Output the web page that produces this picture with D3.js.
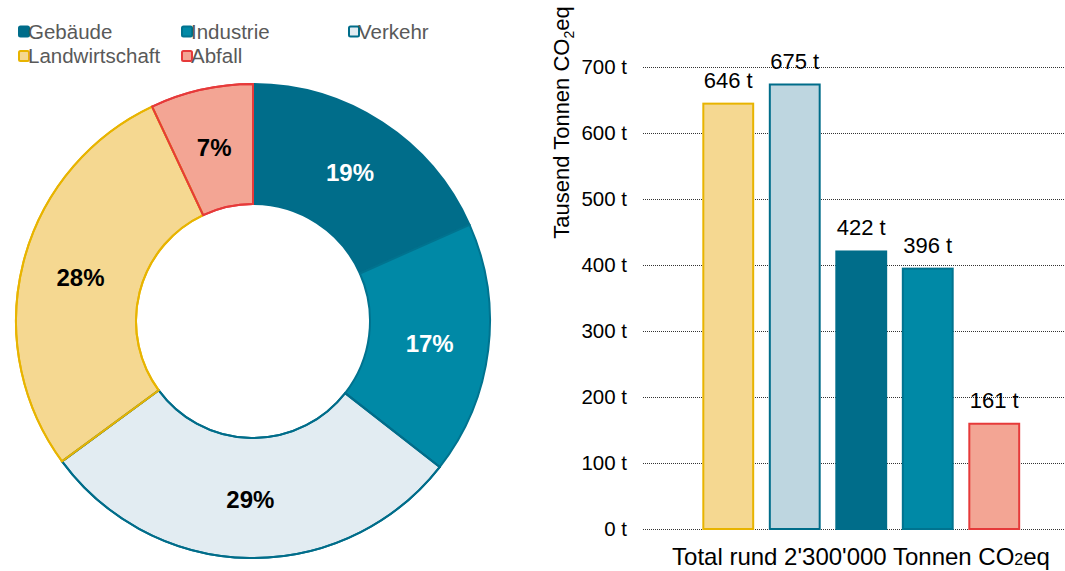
<!DOCTYPE html>
<html>
<head>
<meta charset="utf-8">
<script src="https://cdn.jsdelivr.net/npm/d3@7"></script>
<style>
  html, body { margin: 0; padding: 0; background: #fff; }
  svg { display: block; font-family: "Liberation Sans", Arial, sans-serif; }
</style>
</head>
<body>
<svg id="chart" width="1065" height="571"></svg>
<script>
// Emission sectors (thousand tonnes CO2eq)
const categories = ["Gebäude", "Industrie", "Verkehr", "Landwirtschaft", "Abfall"];
const values = [422, 396, 675, 646, 161];
const pctLabels = ["19%", "17%", "29%", "28%", "7%"];
const fills = ["#006d8a", "#0089a6", "#e2ecf2", "#f5d891", "#f3a594"];
const strokes = ["#006d8a", "#00738f", "#006d8a", "#e8b400", "#e63a3a"];
const pctColors = ["#fff", "#fff", "#000", "#000", "#000"];

// Bar chart order and colours
const barCats = ["Landwirtschaft", "Verkehr", "Gebäude", "Industrie", "Abfall"];
const barValues = [646, 675, 422, 396, 161];
const barFills = ["#f5d891", "#bed6e0", "#006d8a", "#0089a6", "#f3a594"];
const barStrokes = ["#e8b400", "#006d8a", "#006d8a", "#00738f", "#e63a3a"];
const yTicks = [0, 100, 200, 300, 400, 500, 600, 700];

const svg = d3.select("#chart");

// ---- Legend ----
const legendPos = [[18, 38.5], [181, 38.5], [348, 38.5], [18, 63], [181, 63]];
const legend = svg.append("g");
categories.forEach((c, i) => {
  const [x, y] = legendPos[i];
  legend.append("rect")
    .attr("x", x + 1).attr("y", y - 12).attr("width", 10).attr("height", 10)
    .attr("rx", 1.5)
    .attr("fill", fills[i]).attr("stroke", strokes[i]).attr("stroke-width", 2);
  legend.append("text")
    .attr("x", x + 10).attr("y", y)
    .attr("font-size", 20.5).attr("fill", "#595959")
    .text(c);
});

// ---- Donut ----
const cx = 253, cy = 321, rOuter = 237, rInner = 117;
const pie = d3.pie().sort(null).value(d => d.v);
const arcs = pie(categories.map((c, i) => ({ c, v: values[i], i })));
const arc = d3.arc().innerRadius(rInner).outerRadius(rOuter);
const labelArc = d3.arc().innerRadius(178).outerRadius(178);
const donut = svg.append("g").attr("transform", `translate(${cx},${cy})`);

donut.selectAll("path.slice").data(arcs).join("path")
  .attr("class", "slice")
  .attr("d", arc)
  .attr("fill", d => fills[d.data.i])
  .attr("stroke", d => strokes[d.data.i])
  .attr("stroke-width", 2)
  .attr("stroke-linejoin", "round");

// Re-stroke the outlined slices so their borders sit on top
[2, 3, 4].forEach(k => {
  donut.append("path").attr("d", arc(arcs[k]))
    .attr("fill", "none").attr("stroke", strokes[k]).attr("stroke-width", 2);
});

donut.selectAll("text.pct").data(arcs).join("text")
  .attr("class", "pct")
  .attr("transform", d => `translate(${labelArc.centroid(d)})`)
  .attr("text-anchor", "middle")
  .attr("dy", "0.38em")
  .attr("font-size", 24).attr("font-weight", "bold")
  .attr("fill", d => pctColors[d.data.i])
  .text(d => pctLabels[d.data.i]);

// ---- Bar chart ----
const y = d3.scaleLinear().domain([0, 700]).range([529, 67]);
const x = d3.scaleBand().domain(barCats).range([695, 1027.5])
  .paddingInner(0.22).paddingOuter(0.11);

const grid = svg.append("g");
grid.selectAll("line").data(yTicks).join("line")
  .attr("x1", 643).attr("x2", 1065)
  .attr("y1", d => y(d) + 0.5).attr("y2", d => y(d) + 0.5)
  .attr("stroke", "#333").attr("stroke-width", 1)
  .attr("stroke-dasharray", "1,1");

const yAxis = d3.axisLeft(y).tickValues(yTicks).tickSize(0).tickPadding(0)
  .tickFormat(d => d + " t");
svg.append("g").attr("transform", "translate(627,0)").call(yAxis)
  .call(g => g.select(".domain").remove())
  .call(g => g.selectAll("text").attr("font-size", 20.5).attr("fill", "#000")
    .attr("font-family", "Liberation Sans, Arial, sans-serif"));

svg.append("g").selectAll("rect").data(barCats).join("rect")
  .attr("x", d => x(d) + 1)
  .attr("width", x.bandwidth() - 2)
  .attr("y", (d, i) => y(barValues[i]) + 1)
  .attr("height", (d, i) => y(0) - y(barValues[i]) - 1)
  .attr("fill", (d, i) => barFills[i])
  .attr("stroke", (d, i) => barStrokes[i])
  .attr("stroke-width", 2);

svg.append("g").selectAll("text").data(barCats).join("text")
  .attr("x", d => x(d) + x.bandwidth() / 2)
  .attr("y", (d, i) => y(barValues[i]) - 15)
  .attr("text-anchor", "middle")
  .attr("font-size", 22).attr("fill", "#000")
  .text((d, i) => barValues[i] + " t");

// Axis title
const yt = svg.append("text")
  .attr("transform", "translate(569,122.5) rotate(-90)")
  .attr("text-anchor", "middle")
  .attr("font-size", 22).attr("fill", "#000");
yt.append("tspan").text("Tausend Tonnen CO");
yt.append("tspan").attr("font-size", 14).attr("dy", 5).text("2");
yt.append("tspan").attr("dy", -5).text("eq");

// Total note
const tot = svg.append("text")
  .attr("x", 861).attr("y", 565)
  .attr("text-anchor", "middle")
  .attr("font-size", 24).attr("fill", "#000");
tot.append("tspan").text("Total rund 2'300'000 Tonnen CO");
tot.append("tspan").attr("font-size", 16).text("2");
tot.append("tspan").text("eq");
</script>
</body>
</html>
